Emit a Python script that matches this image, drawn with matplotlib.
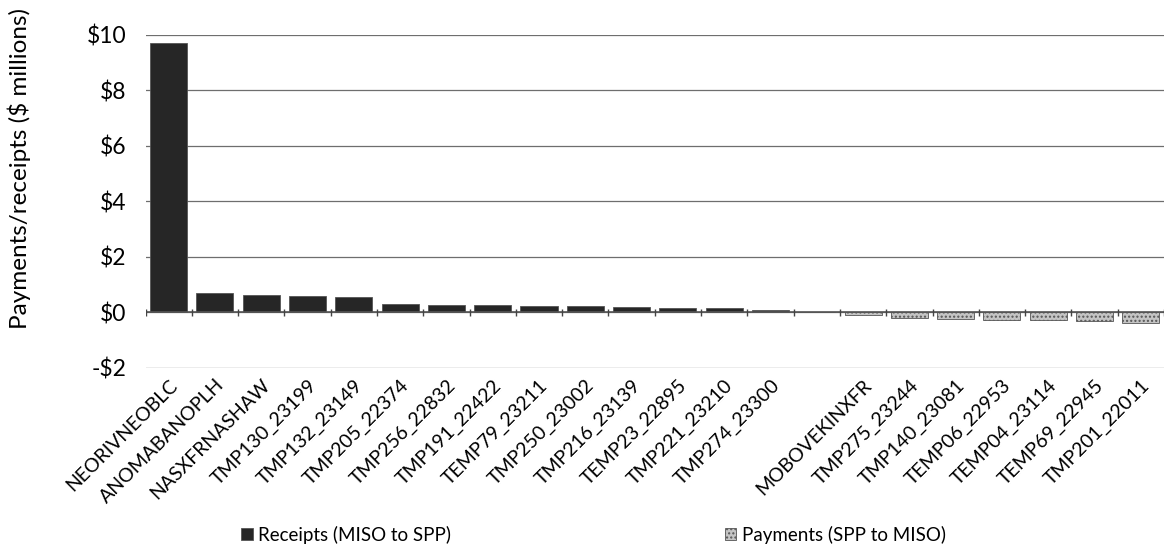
import matplotlib.pyplot as plt
import numpy as np

plt.rcParams['font.family'] = ['Lato', 'DejaVu Sans']

# node names along the x axis (one slot has no label)
names = ['NEORIVNEOBLC', 'ANOMABANOPLH', 'NASXFRNASHAW', 'TMP130_23199',
         'TMP132_23149', 'TMP205_22374', 'TMP256_22832', 'TMP191_22422',
         'TEMP79_23211', 'TMP250_23002', 'TMP216_23139', 'TEMP23_22895',
         'TMP221_23210', 'TMP274_23300', '', 'MOBOVEKINXFR',
         'TMP275_23244', 'TMP140_23081', 'TEMP06_22953', 'TEMP04_23114',
         'TEMP69_22945', 'TMP201_22011']

# $ millions
receipts = [9.7, 0.70, 0.64, 0.60, 0.55, 0.32, 0.28, 0.26,
            0.23, 0.22, 0.21, 0.17, 0.16, 0.08, 0.03, 0,
            0, 0, 0, 0, 0, 0]
payments = [0, 0, 0, 0, 0, 0, 0, 0,
            0, 0, 0, 0, 0, 0, 0, -0.08,
            -0.20, -0.23, -0.26, -0.27, -0.30, -0.38]

yticks = [-2, 0, 2, 4, 6, 8, 10]

fig = plt.figure(figsize=(11.64, 5.55), dpi=100)
ax = fig.add_axes([0.125, 0.337, 0.875, 0.6])

x = np.arange(len(names))
ax.bar(x, receipts, 0.8, color='#262626', edgecolor='#555555', linewidth=0.6,
       label='Receipts (MISO to SPP)', zorder=3)
ax.bar(x, payments, 0.8, color='#c4c4c4', edgecolor='#555555', linewidth=0.6,
       hatch='....', label='Payments (SPP to MISO)', zorder=3)

ax.set_xlim(-0.5, len(names) - 0.5)
ax.set_ylim(-2, 10)
ax.set_yticks(yticks)
ax.set_yticklabels([('-$%d' % -v) if v < 0 else '$%d' % v for v in yticks],
                   fontsize=16.5)
ax.grid(axis='y', color='#6e6e6e', linewidth=0.9, zorder=0)
ax.axhline(0, color='#555555', linewidth=1.2, zorder=4)
# little category ticks on the zero line
ax.vlines(np.arange(len(names) + 1) - 0.5, -0.12, 0.12, color='#444444',
          linewidth=1, zorder=4)
for s in ax.spines.values():
    s.set_visible(False)
ax.tick_params(axis='y', length=0, pad=14)

ax.set_xticks(x)
ax.set_xticklabels(names, rotation=45, ha='right', rotation_mode='anchor',
                   fontsize=14)
ax.tick_params(axis='x', length=0, pad=6)

ax.set_ylabel('Payments/receipts ($ millions)', fontsize=17.5)
ax.yaxis.set_label_coords(-0.112, 0.6)

fig.legend(*ax.get_legend_handles_labels(), loc='center',
           bbox_to_anchor=(0.51, 0.036), ncol=2,
           frameon=False, fontsize=13.5, columnspacing=14.6,
           handlelength=0.6, handleheight=0.6, handletextpad=0.3)

fig.savefig('out.png', dpi=100)
